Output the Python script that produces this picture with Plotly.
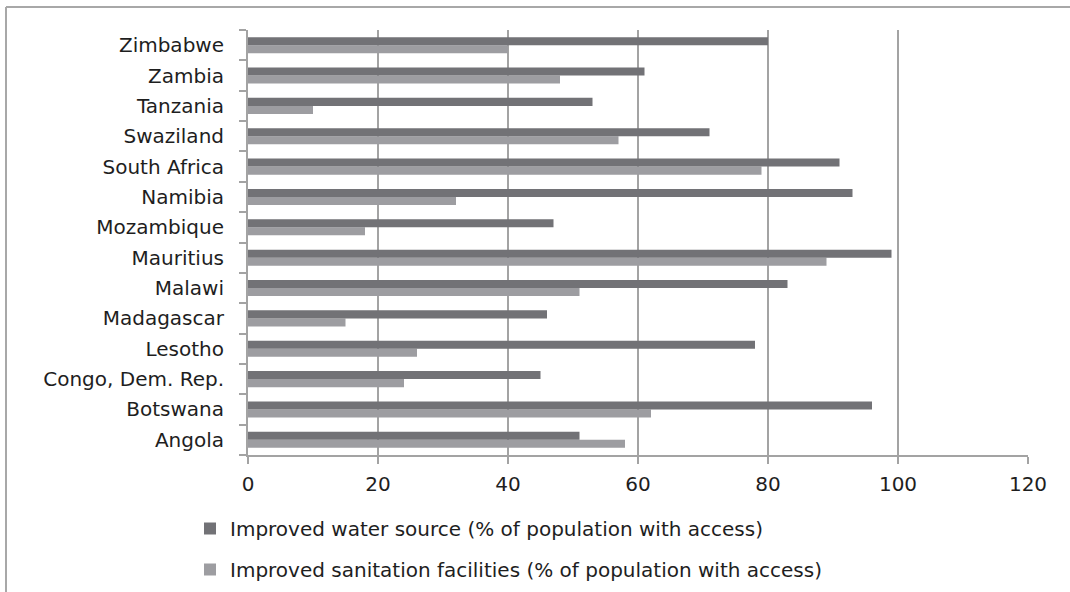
import plotly.graph_objects as go

countries = ["Angola", "Botswana", "Congo, Dem. Rep.", "Lesotho", "Madagascar", "Malawi",
             "Mauritius", "Mozambique", "Namibia", "South Africa", "Swaziland", "Tanzania",
             "Zambia", "Zimbabwe"]
water = [51, 96, 45, 78, 46, 83, 99, 47, 93, 91, 71, 53, 61, 80]
sanitation = [58, 62, 24, 26, 15, 51, 89, 18, 32, 79, 57, 10, 48, 40]
x_ticks = [0, 20, 40, 60, 80, 100, 120]

W, H = 1070, 592
L, R, T, B = 248, 42, 30, 137
pw, ph = W - L - R, H - T - B

def px(x):
    return (x - L) / pw

def py(y):
    return (H - B - y) / ph

FONT = "DejaVu Sans"
FS = 20
grid = "#a3a3a3"

fig = go.Figure()
fig.add_trace(go.Bar(
    y=countries, x=sanitation, orientation="h",
    name="Improved sanitation facilities (% of population with access)",
    marker=dict(color="#9d9da1", line=dict(width=0)),
    legendgroup="b", legendrank=2,
))
fig.add_trace(go.Bar(
    y=countries, x=water, orientation="h",
    name="Improved water source (% of population with access)",
    marker=dict(color="#727276", line=dict(width=0)),
    legendgroup="a", legendrank=1,
))

fig.update_layout(
    width=W, height=H,
    margin=dict(l=L, r=R, t=T, b=B, autoexpand=False),
    paper_bgcolor="white", plot_bgcolor="white",
    barmode="group", bargap=0.47, bargroupgap=0,
    font=dict(family=FONT, size=FS, color="#1e1e1e"),
    showlegend=True,
    legend=dict(
        orientation="v", x=px(190), y=py(509), xanchor="left", yanchor="top",
        traceorder="grouped", tracegroupgap=12,
        font=dict(family=FONT, size=FS, color="#1e1e1e"),
        bgcolor="rgba(0,0,0,0)",
    ),
    xaxis=dict(
        range=[0, 120], tickvals=x_ticks, ticktext=[str(v) for v in x_ticks],
        showgrid=True, gridcolor=grid, gridwidth=2,
        showline=True, linecolor=grid, linewidth=2,
        ticks="outside", ticklen=7, tickcolor=grid, tickwidth=2,
        ticklabelstandoff=3, zeroline=False, fixedrange=True,
    ),
    yaxis=dict(
        type="category", categoryorder="array", categoryarray=countries,
        showline=True, linecolor=grid, linewidth=2,
        ticks="outside", ticklen=7, tickcolor=grid, tickwidth=2,
        tickson="boundaries", showgrid=False,
        ticklabelstandoff=18, fixedrange=True,
    ),
    shapes=[
        dict(type="line", xref="paper", yref="paper",
             x0=px(6), x1=px(1075), y0=py(7), y1=py(7),
             line=dict(color="#a8a8a8", width=2)),
        dict(type="line", xref="paper", yref="paper",
             x0=px(6), x1=px(6), y0=py(7), y1=py(600),
             line=dict(color="#a8a8a8", width=2)),
    ],
)

fig.write_html("out.html", config={"displayModeBar": False},
               post_script="document.body.style.margin='0';")
